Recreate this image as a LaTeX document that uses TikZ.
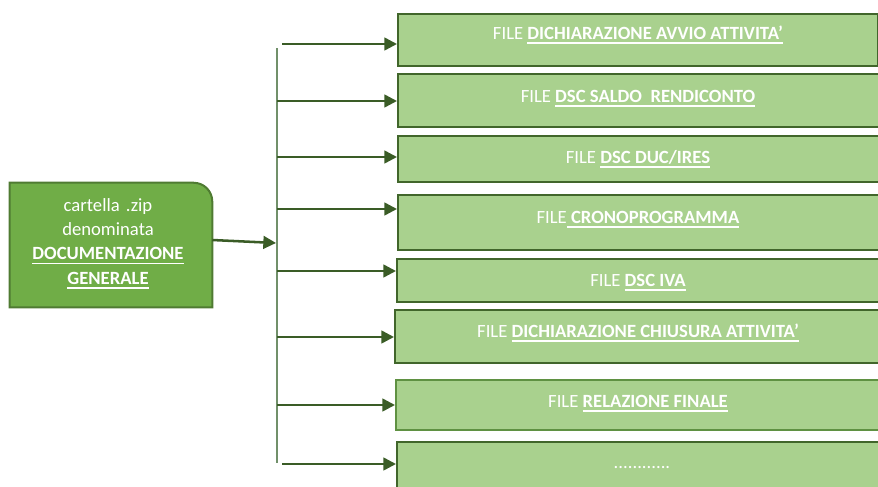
\documentclass[tikz,border=0pt]{standalone}
\usepackage{fontspec}
\setmainfont{Carlito}
\usetikzlibrary{arrows.meta}
\definecolor{srcfill}{HTML}{70AD47}
\definecolor{srcline}{HTML}{4F7B32}
\definecolor{boxfill}{HTML}{A9D18E}
\definecolor{boxline}{HTML}{41662B}
\definecolor{boxlinelight}{HTML}{5F9142}
\definecolor{arrcol}{HTML}{3A5C26}
\definecolor{trunkcol}{HTML}{71906A}
\newsavebox\ulbox
\newcommand\ulin[1]{\leavevmode\sbox\ulbox{#1}\rlap{\rule[-3.4pt]{\wd\ulbox}{1pt}}\usebox\ulbox}
\begin{document}
\begin{tikzpicture}[x=0.75pt,y=-0.75pt,
  filebox/.style n args={2}{draw=boxline, line width=1.5pt, fill=boxfill, anchor=north west,
     inner sep=0pt, minimum width=#1*0.75pt, minimum height=#2*0.75pt},
  filetext/.style={anchor=base, text=white, font=\fontsize{14pt}{17pt}\selectfont, inner sep=0pt},
  srcbox/.style={inner sep=0pt, minimum width=151.5pt, minimum height=93pt},
  srcshape/.style={fill=srcfill, draw=srcline, line width=1.5pt},
  srctext/.style={anchor=base, text=white, text width=150pt, align=center, inner sep=0pt,
     font=\fontsize{14pt}{18.3pt}\selectfont},
  arr/.style={draw=arrcol, line width=1.9pt, -{Triangle[length=9.5pt,width=9.5pt]}},
  trunk/.style={draw=trunkcol, line width=1.3pt}]
\useasboundingbox (0,0) rectangle (878,486);

% source
\node[srcbox] (src) at (111,245) {};
\path[srcshape] (src.south west) -- (src.north west) -- ([xshift=-14pt]src.north east)
   arc[start angle=90, end angle=0, radius=14pt] -- (src.south east) -- cycle;
\node[srctext] (srct) at (108,211) {cartella .zip\\denominata\\\ulin{\textbf{DOCUMENTAZIONE}}\\\ulin{\textbf{GENERALE}}};

% file boxes
\node[filebox={480}{52}] (b1) at (397,13) {};
\node[filebox={485}{53}] (b2) at (397,73) {};
\node[filebox={485}{46}] (b3) at (397,135) {};
\node[filebox={485}{55}] (b4) at (397,194) {};
\node[filebox={486}{43}] (b5) at (396,258) {};
\node[filebox={488}{53}] (b6) at (394,309) {};
\node[filebox={487}{50}, draw=boxlinelight] (b7) at (395,379) {};
\node[filebox={486}{62}] (b8) at (396,441) {};

\node[filetext] (t1) at (638,39) {FILE \ulin{\textbf{DICHIARAZIONE AVVIO ATTIVITA’}}};
\node[filetext] (t2) at (638,102) {FILE \ulin{\textbf{DSC SALDO \ RENDICONTO}}};
\node[filetext] (t3) at (638,163) {FILE \ulin{\textbf{DSC DUC/IRES}}};
\node[filetext] (t4) at (638,223) {FILE\ulin{\textbf{\ CRONOPROGRAMMA}}};
\node[filetext] (t5) at (638,286) {FILE \ulin{\textbf{DSC IVA}}};
\node[filetext] (t6) at (638,337) {FILE \ulin{\textbf{DICHIARAZIONE CHIUSURA ATTIVITA’}}};
\node[filetext] (t7) at (638,407) {FILE \ulin{\textbf{RELAZIONE FINALE}}};
\node[filetext] (t8) at (642,468) {............};

% trunk
\coordinate (ttop) at (277,48);
\coordinate (tbot) at (277,463);
\draw[trunk] (ttop) -- (tbot);

% source arrow
\coordinate (jin) at (276,243);
\draw[arr] ([yshift=3.75pt]src.east) -- (jin);

% branch arrows
\coordinate (s1) at (282,44);
\coordinate (s2) at (277,101);
\coordinate (s3) at (277,157);
\coordinate (s4) at (277,209);
\coordinate (s5) at (277,271);
\coordinate (s6) at (277,337);
\coordinate (s7) at (277,405);
\coordinate (s8) at (282,464);
\draw[arr] (s1) -- (s1 -| b1.west);
\draw[arr] (s2) -- (s2 -| b2.west);
\draw[arr] (s3) -- (s3 -| b3.west);
\draw[arr] (s4) -- (s4 -| b4.west);
\draw[arr] (s5) -- (s5 -| b5.west);
\draw[arr] (s6) -- (s6 -| b6.west);
\draw[arr] (s7) -- (s7 -| b7.west);
\draw[arr] (s8) -- (s8 -| b8.west);
\end{tikzpicture}
\end{document}
